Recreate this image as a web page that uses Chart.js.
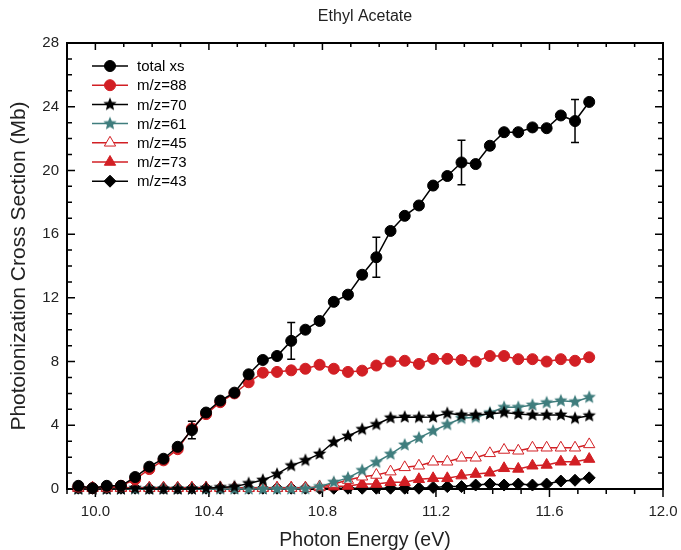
<!DOCTYPE html>
<html>
<head>
<meta charset="utf-8">
<title>Ethyl Acetate</title>
<script src="https://cdn.jsdelivr.net/npm/chart.js@4.4.1/dist/chart.umd.min.js"></script>
<style>
  html, body { margin: 0; padding: 0; background: #fff; }
  #xsChart { display: block; }
</style>
</head>
<body>
<canvas id="xsChart" width="681" height="550"></canvas>
<script>
// photon energies (eV), one entry per measured point
const energy = [9.94, 9.99, 10.04, 10.09, 10.14, 10.19, 10.24, 10.29, 10.34, 10.39,
  10.44, 10.49, 10.54, 10.59, 10.64, 10.69, 10.74, 10.79, 10.84, 10.89,
  10.94, 10.99, 11.04, 11.09, 11.14, 11.19, 11.24, 11.29, 11.34, 11.39,
  11.44, 11.49, 11.54, 11.59, 11.64, 11.69, 11.74];

// cross sections (Mb)
const totalXs = [0.2, 0.05, 0.2, 0.2, 0.75, 1.4, 1.9, 2.65, 3.7, 4.8,
  5.55, 6.05, 7.2, 8.1, 8.35, 9.3, 10.0, 10.55, 11.75, 12.2,
  13.45, 14.55, 16.2, 17.15, 17.8, 19.05, 19.65, 20.5, 20.4, 21.55,
  22.4, 22.4, 22.7, 22.65, 23.45, 23.1, 24.3];
const totalErr = [null, null, null, null, null, null, null, null, 0.55, null,
  null, null, null, null, null, 1.15, null, null, null, null,
  null, 1.25, null, null, null, null, null, 1.4, null, null,
  null, null, null, null, null, 1.35, null];
const mz88 = [0.15, 0.05, 0.15, 0.2, 0.6, 1.25, 1.8, 2.5, 3.8, 4.7,
  5.45, 6.0, 6.7, 7.3, 7.35, 7.45, 7.55, 7.8, 7.55, 7.35,
  7.43, 7.75, 8.0, 8.05, 7.85, 8.17, 8.17, 8.1, 8.0, 8.35,
  8.35, 8.15, 8.15, 8.0, 8.15, 8.05, 8.27];
const mz70 = [0, 0, 0, 0, 0.05, 0, 0, 0, 0, 0.05,
  0.1, 0.15, 0.35, 0.56, 0.93, 1.47, 1.8, 2.2, 2.95, 3.32,
  3.75, 4.05, 4.47, 4.52, 4.5, 4.52, 4.75, 4.65, 4.65, 4.71,
  4.81, 4.71, 4.65, 4.65, 4.65, 4.44, 4.6];
const mz61 = [0, 0, 0, 0, 0, 0, 0, 0, 0, 0,
  0, 0, 0, 0, 0, 0, 0.02, 0.15, 0.43, 0.7,
  1.17, 1.68, 2.19, 2.77, 3.21, 3.65, 4.05, 4.44, 4.5, 4.79,
  5.13, 5.13, 5.27, 5.42, 5.54, 5.48, 5.76];
const mz45 = [0.05, 0.05, 0.05, 0.05, 0.05, 0.05, 0.05, 0.05, 0.05, 0.05,
  0.05, 0.05, 0.05, 0.05, 0.05, 0.05, 0.05, 0.15, 0.31, 0.56,
  0.77, 0.88, 1.09, 1.36, 1.46, 1.71, 1.71, 1.96, 1.96, 2.24,
  2.45, 2.4, 2.59, 2.59, 2.59, 2.59, 2.8];
const mz73 = [0.08, 0.08, 0.08, 0.08, 0.08, 0.08, 0.08, 0.08, 0.08, 0.08,
  0.08, 0.08, 0.08, 0.08, 0.08, 0.08, 0.08, 0.1, 0.15, 0.19,
  0.31, 0.31, 0.42, 0.42, 0.61, 0.67, 0.67, 0.84, 0.94, 1.02,
  1.3, 1.26, 1.46, 1.51, 1.71, 1.71, 1.88];
const mz43 = [0.05, 0.05, 0.05, 0.05, 0.05, 0.05, 0.05, 0.05, 0.05, 0.05,
  0.05, 0.05, 0.05, 0.05, 0.05, 0.05, 0.05, 0.05, 0.05, 0.05,
  0.05, 0.05, 0.05, 0.05, 0.05, 0.1, 0.15, 0.15, 0.25, 0.31,
  0.25, 0.31, 0.25, 0.31, 0.5, 0.55, 0.7];

const xTicks = [10.0, 10.4, 10.8, 11.2, 11.6, 12.0];
const yTicks = [0, 4, 8, 12, 16, 20, 24, 28];

const RED = '#d21f24';
const TEAL = '#3f7d7d';
const FONT = '"Liberation Sans", Arial, sans-serif';

// filled five-point star used as a point style
function starImage(color, r) {
  const size = Math.ceil(r * 2 + 2);
  const c = document.createElement('canvas');
  c.width = size;
  c.height = size;
  const g = c.getContext('2d');
  g.translate(size / 2, size / 2);
  g.beginPath();
  for (let k = 0; k < 10; k++) {
    const rad = k % 2 ? r * 0.45 : r;
    const a = -Math.PI / 2 + k * Math.PI / 5;
    g.lineTo(rad * Math.cos(a), rad * Math.sin(a));
  }
  g.closePath();
  g.fillStyle = color;
  g.fill();
  return c;
}

const toPoints = (vals) => energy.map((e, i) => ({ x: e, y: vals[i] }));

function series(label, vals, color, style, radius, fill) {
  return {
    label,
    data: toPoints(vals),
    borderColor: color,
    borderWidth: 1.5,
    pointStyle: style,
    pointRadius: radius,
    pointBackgroundColor: fill || color,
    pointBorderColor: color,
    pointBorderWidth: 1,
    clip: false,
  };
}

// frame with inward/outward minor and major ticks
const axisFrame = {
  id: 'axisFrame',
  beforeDatasetsDraw(chart) {
    const { ctx, chartArea: a, scales: { x, y } } = chart;
    ctx.save();
    ctx.strokeStyle = '#000';
    ctx.lineWidth = 1.5;
    ctx.beginPath();
    for (let t = 99; t <= 120; t++) {
      const px = x.getPixelForValue(t / 10);
      const major = t >= 100 && (t - 100) % 4 === 0;
      ctx.moveTo(px, a.bottom);
      ctx.lineTo(px, a.bottom + (major ? 8 : 5));
      ctx.moveTo(px, a.top);
      ctx.lineTo(px, a.top + (major ? 7 : 4));
    }
    for (let v = 0; v <= 28; v++) {
      const py = y.getPixelForValue(v);
      const major = v % 4 === 0;
      ctx.moveTo(a.left, py);
      ctx.lineTo(a.left + (major ? 8 : 5), py);
      ctx.moveTo(a.right, py);
      ctx.lineTo(a.right - (major ? 8 : 5), py);
    }
    ctx.stroke();
    ctx.lineWidth = 2;
    ctx.strokeRect(a.left, a.top, a.right - a.left, a.bottom - a.top);
    ctx.restore();
  },
};

// error bars on the total cross section
const errorBars = {
  id: 'errorBars',
  afterDatasetsDraw(chart) {
    const { ctx, scales: { x, y } } = chart;
    ctx.save();
    ctx.strokeStyle = '#000';
    ctx.lineWidth = 1.5;
    ctx.beginPath();
    totalErr.forEach((err, i) => {
      if (err == null) return;
      const px = x.getPixelForValue(energy[i]);
      const hi = y.getPixelForValue(totalXs[i] + err);
      const lo = y.getPixelForValue(totalXs[i] - err);
      ctx.moveTo(px, hi); ctx.lineTo(px, lo);
      ctx.moveTo(px - 4, hi); ctx.lineTo(px + 4, hi);
      ctx.moveTo(px - 4, lo); ctx.lineTo(px + 4, lo);
    });
    ctx.stroke();
    ctx.restore();
  },
};

// legend box in the upper left of the plot
const insetLegend = {
  id: 'insetLegend',
  afterDraw(chart) {
    const { ctx, chartArea: a } = chart;
    ctx.save();
    ctx.font = '15px ' + FONT;
    ctx.textBaseline = 'middle';
    chart.data.datasets.forEach((ds, i) => {
      const yy = a.top + 23 + i * 19.2;
      const cx = a.left + 43;
      ctx.strokeStyle = ds.borderColor;
      ctx.lineWidth = 1.5;
      ctx.beginPath();
      ctx.moveTo(cx - 18, yy);
      ctx.lineTo(cx + 18, yy);
      ctx.stroke();
      ctx.fillStyle = ds.pointBackgroundColor;
      ctx.strokeStyle = ds.pointBorderColor;
      ctx.lineWidth = ds.pointBorderWidth;
      Chart.helpers.drawPoint(ctx, {
        pointStyle: ds.pointStyle, radius: ds.pointRadius, rotation: 0, borderWidth: ds.pointBorderWidth,
      }, cx, yy);
      ctx.fillStyle = '#000';
      ctx.fillText(ds.label, a.left + 70, yy + 1);
    });
    ctx.restore();
  },
};

const datasets = [
  series('total xs', totalXs, '#000', 'circle', 5.5),
  series('m/z=88', mz88, RED, 'circle', 5.5),
  series('m/z=70', mz70, '#000', starImage('#000', 7), 6),
  series('m/z=61', mz61, TEAL, starImage(TEAL, 7), 6),
  series('m/z=45', mz45, RED, 'triangle', 6.5, '#fff'),
  series('m/z=73', mz73, RED, 'triangle', 6.5),
  series('m/z=43', mz43, '#000', 'rectRot', 6),
];

new Chart(document.getElementById('xsChart'), {
  type: 'line',
  data: { datasets },
  plugins: [axisFrame, errorBars, insetLegend],
  options: {
    responsive: false,
    animation: false,
    events: [],
    layout: { padding: { left: 0, right: 18, top: 0, bottom: 0 } },
    plugins: {
      legend: { display: false },
      tooltip: { enabled: false },
      title: {
        display: true,
        text: 'Ethyl Acetate',
        fullSize: false,
        color: '#222',
        font: { family: FONT, size: 16, weight: 'normal', lineHeight: 1.2 },
        padding: { top: 7, bottom: 16.8 },
      },
    },
    scales: {
      x: {
        type: 'linear',
        min: 9.9,
        max: 12.0,
        grid: { display: false, drawTicks: false },
        border: { display: false },
        afterBuildTicks: (scale) => { scale.ticks = xTicks.map((v) => ({ value: v })); },
        afterFit: (scale) => {
          scale.height = 61;
          scale.paddingLeft = 0;
          scale.paddingRight = 0;
        },
        ticks: {
          color: '#222',
          padding: 14,
          maxRotation: 0,
          autoSkip: false,
          font: { family: FONT, size: 15 },
          callback: (v) => v.toFixed(1),
        },
        title: {
          display: true,
          text: 'Photon Energy (eV)',
          color: '#222',
          font: { family: FONT, size: 19.5, lineHeight: 1 },
          padding: { top: 0, bottom: 0 },
        },
      },
      y: {
        min: 0,
        max: 28,
        grid: { display: false, drawTicks: false },
        border: { display: false },
        afterBuildTicks: (scale) => { scale.ticks = yTicks.map((v) => ({ value: v })); },
        afterFit: (scale) => { scale.width = 67; },
        ticks: {
          color: '#222',
          padding: 8,
          font: { family: FONT, size: 15 },
        },
        title: {
          display: true,
          text: 'Photoionization Cross Section (Mb)',
          color: '#222',
          font: { family: FONT, size: 21, lineHeight: 1 },
          padding: { top: 9, bottom: 0 },
        },
      },
    },
  },
});
</script>
</body>
</html>
